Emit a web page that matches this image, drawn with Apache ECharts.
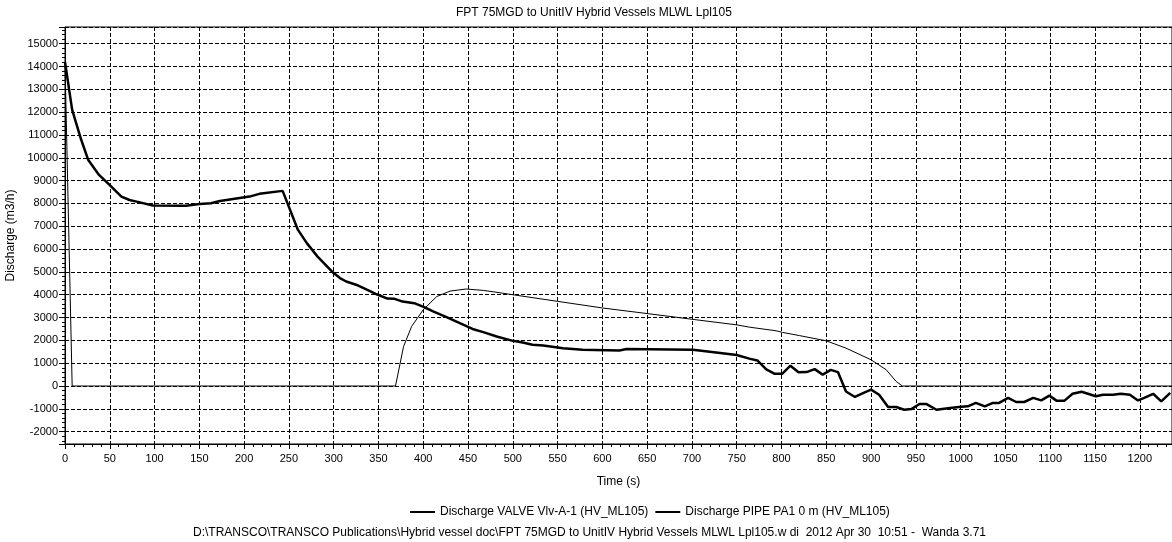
<!DOCTYPE html>
<html>
<head>
<meta charset="utf-8">
<script src="https://cdn.jsdelivr.net/npm/echarts@6/dist/echarts.min.js"></script>
<style>
html,body{margin:0;padding:0;background:#fff;}
#chart{width:1172px;height:542px;}
</style>
</head>
<body>
<div id="chart"></div>
<script>
const chartTitle = 'FPT 75MGD to UnitIV Hybrid Vessels MLWL Lpl105';
const footerText = 'D:\\TRANSCO\\TRANSCO Publications\\Hybrid vessel doc\\FPT 75MGD to UnitIV Hybrid Vessels MLWL Lpl105.w di  2012 Apr 30  10:51 -  Wanda 3.71';
const xAxisName = 'Time (s)';
const yAxisName = 'Discharge (m3/h)';
const seriesNames = ['Discharge VALVE Vlv-A-1 (HV_ML105)', 'Discharge PIPE PA1 0 m (HV_ML105)'];

const xRange = [0, 1236];
const yRange = [-2540, 15730];

const valveTime = [0, 8, 369, 378, 387, 400, 415, 430, 448, 467, 478, 500, 550, 600, 651, 699, 750, 764, 794, 801, 820, 850, 872, 900, 917, 928, 935, 1236];
const valveFlow = [14200, 0, 0, 1730, 2610, 3340, 3920, 4160, 4250, 4190, 4130, 4000, 3710, 3420, 3170, 2930, 2680, 2580, 2420, 2350, 2210, 1980, 1660, 1150, 710, 200, 0, 0];

const pipeTime = [0, 8, 18, 26, 38, 50, 63, 72, 80, 98, 135, 150, 163, 173, 206, 217, 243, 260, 270, 282, 298, 307, 314, 325, 337, 348, 360, 368, 377, 390, 401, 411, 426, 439, 455, 467, 482, 500, 511, 522, 534, 556, 578, 619, 627, 701, 727, 750, 764, 773, 783, 792, 801, 810, 819, 828, 837, 846, 855, 863, 872, 882, 891, 900, 909, 919, 928, 937, 945, 954, 962, 973, 988, 1001, 1008, 1017, 1027, 1036, 1043, 1053, 1062, 1071, 1081, 1090, 1099, 1107, 1116, 1125, 1135, 1151, 1159, 1170, 1179, 1189, 1198, 1205, 1215, 1224, 1234];
const pipeFlow = [14200, 12100, 10800, 9900, 9250, 8800, 8300, 8150, 8080, 7910, 7900, 7980, 8010, 8110, 8300, 8420, 8550, 6850, 6260, 5670, 5020, 4730, 4580, 4440, 4220, 4020, 3830, 3820, 3700, 3630, 3460, 3270, 3020, 2790, 2500, 2360, 2170, 1980, 1910, 1810, 1780, 1660, 1590, 1560, 1620, 1590, 1470, 1360, 1200, 1120, 730, 540, 540, 890, 600, 610, 740, 500, 710, 610, -240, -480, -310, -160, -380, -920, -920, -1040, -1010, -790, -790, -1040, -960, -910, -890, -740, -890, -740, -740, -520, -700, -700, -520, -630, -420, -640, -640, -340, -250, -450, -380, -380, -340, -380, -630, -520, -340, -670, -300];

const FONT = "'Liberation Sans', Arial, sans-serif";
const pairs = (xs, ys) => xs.map((x, i) => [x, ys[i]]);
const plain = v => String(v);

const chart = echarts.init(document.getElementById('chart'), null, {renderer: 'canvas'});
chart.setOption({
  animation: false,
  backgroundColor: '#fff',
  textStyle: {fontFamily: FONT, color: '#000'},
  title: {
    text: chartTitle,
    left: 456, top: 7, padding: 0,
    textStyle: {fontFamily: FONT, fontSize: 12, fontWeight: 'normal', color: '#000'}
  },
  legend: {
    left: 409, top: 506, padding: 0,
    itemWidth: 25, itemHeight: 14, itemGap: 6,
    itemStyle: {opacity: 0},
    textStyle: {fontFamily: FONT, fontSize: 12, color: '#000'},
    data: seriesNames
  },
  grid: {
    left: 65, right: 0, top: 27, bottom: 98,
    outerBoundsMode: 'none', containLabel: false,
    show: true, borderColor: '#000', borderWidth: 1, backgroundColor: 'transparent'
  },
  xAxis: {
    type: 'value', min: xRange[0], max: xRange[1],
    splitNumber: 25, minInterval: 50, maxInterval: 50,
    name: xAxisName, nameLocation: 'middle', nameGap: 32,
    nameTextStyle: {fontFamily: FONT, fontSize: 12, color: '#000'},
    axisLine: {show: true, onZero: false, lineStyle: {color: '#000', width: 1}},
    axisTick: {show: true, inside: false, length: 5, lineStyle: {color: '#000'}},
    minorTick: {show: true, splitNumber: 5, length: 3, lineStyle: {color: '#000'}},
    axisLabel: {fontFamily: FONT, fontSize: 11, color: '#000', margin: 9, showMinLabel: true, showMaxLabel: false, formatter: plain},
    splitLine: {show: true, lineStyle: {color: '#000', width: 1, type: [4, 2]}}
  },
  yAxis: {
    type: 'value', min: yRange[0], max: yRange[1],
    splitNumber: 18, minInterval: 1000, maxInterval: 1000,
    name: yAxisName, nameLocation: 'middle', nameGap: 40,
    nameTextStyle: {fontFamily: FONT, fontSize: 12, color: '#000'},
    axisLine: {show: true, onZero: false, lineStyle: {color: '#000', width: 1}},
    axisTick: {show: true, inside: false, length: 6, lineStyle: {color: '#000'}},
    minorTick: {show: true, splitNumber: 5, length: 3, lineStyle: {color: '#000'}},
    axisLabel: {fontFamily: FONT, fontSize: 11, color: '#000', margin: 7, showMinLabel: false, showMaxLabel: false, formatter: plain},
    splitLine: {show: true, lineStyle: {color: '#000', width: 1, type: [4, 2]}}
  },
  series: [
    {
      name: seriesNames[0], type: 'line', data: pairs(valveTime, valveFlow),
      symbol: 'none', smooth: false, z: 3,
      lineStyle: {color: '#000', width: 1}, itemStyle: {color: '#000'}
    },
    {
      name: seriesNames[1], type: 'line', data: pairs(pipeTime, pipeFlow),
      symbol: 'none', smooth: false, z: 4,
      lineStyle: {color: '#000', width: 2.5}, itemStyle: {color: '#000'}
    }
  ],
  graphic: [{
    type: 'text', left: 193, top: 527,
    style: {text: footerText, font: "12px 'Liberation Sans', Arial, sans-serif", fill: '#000'}
  }]
});
</script>
</body>
</html>
